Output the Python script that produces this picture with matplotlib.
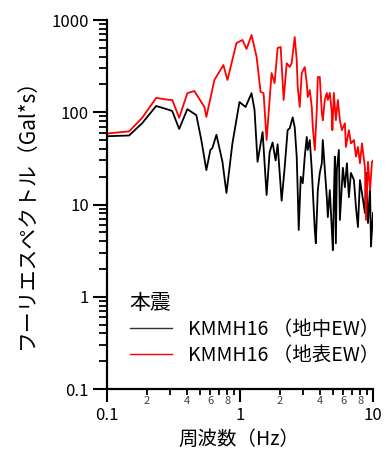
import matplotlib
matplotlib.use('Agg')
from matplotlib import pyplot as plt

# Fourier spectrum, KMMH16 EW, main shock
f_under = [0.1017, 0.1466, 0.1837, 0.2343, 0.2937, 0.3094, 0.349, 0.4017, 0.4695, 0.5119,
           0.5585, 0.5987, 0.6199, 0.665, 0.738, 0.791, 0.877, 0.991, 1.101, 1.221,
           1.286, 1.355, 1.479, 1.585, 1.67, 1.758, 1.853, 1.919, 2.056, 2.166,
           2.281, 2.364, 2.49, 2.578, 2.669, 2.716, 2.764, 2.862, 2.963, 3.068,
           3.176, 3.232, 3.346, 3.464, 3.526, 3.65, 3.715, 3.846, 3.981, 4.122,
           4.194, 4.342, 4.495, 4.575, 4.736, 4.903, 4.99, 5.077, 5.166, 5.257,
           5.349, 5.539, 5.636, 5.937, 6.146, 6.364, 6.588, 6.823, 7.189, 7.443,
           7.705, 7.978, 8.26, 8.703, 8.856, 9.169, 9.493, 9.658, 10.0]
a_under = [55, 56, 76, 117, 106, 103, 66, 108, 93, 50,
           23.6, 39, 41, 57, 29, 13.3, 46, 129, 114, 161,
           106, 29, 61, 12.7, 37, 47, 30, 45, 11, 25,
           64, 67, 88, 69, 33, 14, 5.3, 20, 17, 33,
           54, 39, 50, 24, 14.3, 5.3, 3.8, 14.3, 22, 28,
           50, 24, 12, 7.3, 14.3, 5.3, 3.2, 12, 33, 3.8,
           24, 39, 6.8, 25, 15.4, 28, 12, 22, 18.4, 9.4,
           5.7, 18.4, 13.3, 8.1, 22, 6.3, 15.4, 3.5, 8.1]

f_surf = [0.1017, 0.1466, 0.1837, 0.2343, 0.2937, 0.3094, 0.349, 0.4017, 0.4536, 0.540,
          0.5585, 0.642, 0.750, 0.805, 0.941, 1.044, 1.120, 1.221, 1.333, 1.428,
          1.504, 1.585, 1.728, 1.820, 1.919, 2.022, 2.129, 2.244, 2.364, 2.447,
          2.578, 2.669, 2.716, 2.813, 2.912, 3.068, 3.176, 3.232, 3.346, 3.464,
          3.526, 3.65, 3.78, 3.846, 3.981, 4.122, 4.194, 4.342, 4.495, 4.575,
          4.736, 4.903, 4.95, 5.077, 5.257, 5.443, 5.636, 5.834, 6.146, 6.254,
          6.588, 6.823, 7.189, 7.443, 7.705, 7.978, 8.26, 8.703, 8.856, 9.169,
          9.493, 9.828, 10.0]
a_surf = [59, 62, 87, 143, 136, 136, 87, 161, 170, 114,
          89, 224, 325, 224, 563, 607, 485, 687, 398, 166,
          161, 50, 266, 207, 497, 510, 136, 340, 310, 342,
          654, 368, 188, 114, 266, 309, 207, 146, 174, 114,
          69, 39, 106, 241, 241, 98, 82, 136, 162, 136,
          162, 98, 64, 162, 82, 136, 82, 64, 76, 42,
          64, 46, 50, 33, 42, 28, 46, 25, 6.8, 29,
          14.3, 29, 30]

labels = ['KMMH16 （地中EW）', 'KMMH16 （地表EW）']
ytick_vals = [0.1, 1, 10, 100, 1000]
ytick_text = ['0.1', '1', '10', '100', '1000']
xtick_vals = [0.1, 1, 10]
xtick_text = ['0.1', '1', '10']
xminor_vals = [0.2, 0.3, 0.4, 0.5, 0.6, 0.7, 0.8, 0.9, 2, 3, 4, 5, 6, 7, 8, 9]
xminor_text = ['2', '', '4', '', '6', '', '8', '', '2', '', '4', '', '6', '', '8', '']

plt.rcParams['font.family'] = ['Noto Sans CJK JP', 'DejaVu Sans']

fig = plt.figure(figsize=(3.89, 4.5), dpi=100)
ax = fig.add_axes([107/389, 1-389/450, 266/389, 369/450])

l1, = ax.plot(f_under, a_under, color='black', lw=1.3)
l2, = ax.plot(f_surf, a_surf, color='red', lw=1.3)

ax.set_xscale('log')
ax.set_yscale('log')
ax.set_xlim(0.1, 10)
ax.set_ylim(0.1, 1000)

ax.spines['top'].set_visible(False)
ax.spines['right'].set_visible(False)
ax.spines['left'].set_linewidth(1.6)
ax.spines['bottom'].set_linewidth(1.6)

ax.set_yticks(ytick_vals, ytick_text)
ax.yaxis.set_minor_locator(matplotlib.ticker.LogLocator(base=10, subs=[2, 3, 4, 5, 6, 7, 8, 9]))
ax.yaxis.set_minor_formatter(matplotlib.ticker.NullFormatter())
ax.set_xticks(xtick_vals, xtick_text)
ax.set_xticks(xminor_vals, xminor_text, minor=True)

ax.tick_params(axis='y', which='major', length=10, width=1.5, labelsize=12, pad=3)
ax.tick_params(axis='y', which='minor', length=5.5, width=1.3)
ax.tick_params(axis='x', which='major', length=9, width=1.5, labelsize=12, pad=4)
ax.tick_params(axis='x', which='minor', length=4, width=1.3, labelsize=8,
               labelcolor='#444444', pad=1)

fig.text(27/389, 1-208/450, 'フーリエスペクトル（Gal*s）', rotation=90,
         ha='center', va='center', fontsize=15)
fig.text(239/389, 1-439/450, '周波数（Hz）', ha='center', va='center', fontsize=14)

leg = ax.legend([l1, l2], labels, title='本震', loc='upper left',
                bbox_to_anchor=(0.085, 0.262), frameon=False, fontsize=14,
                title_fontsize=15, borderpad=0, borderaxespad=0, handlelength=2.2,
                handletextpad=0.8, labelspacing=0.25, alignment='left')
for line in leg.get_lines():
    line.set_linewidth(1.0)
leg.get_lines()[0].set_color('#333333')

fig.savefig('out.png', dpi=100)
